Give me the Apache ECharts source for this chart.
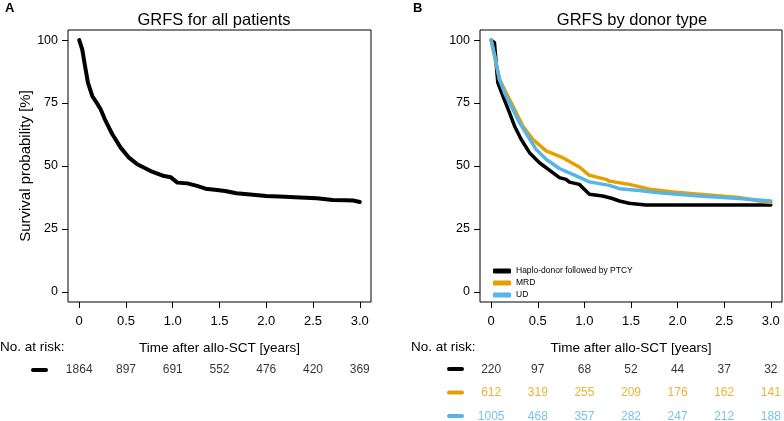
<!DOCTYPE html>
<html>
<head>
<meta charset="utf-8">
<script src="https://cdn.jsdelivr.net/npm/echarts@6/dist/echarts.min.js"></script>
<style>
  html, body { margin: 0; padding: 0; background: #fff; }
  #chart { width: 784px; height: 421px; }
</style>
</head>
<body>
<div id="chart"></div>
<script>
/* GRFS Kaplan-Meier panels with number-at-risk tables */

// ── data ──────────────────────────────────────────────────────────────
const xTicks = [0, 0.5, 1.0, 1.5, 2.0, 2.5, 3.0];
const yTicks = [0, 25, 50, 75, 100];

const allTime = [0, 0.007, 0.032, 0.068, 0.093, 0.139, 0.18, 0.229, 0.282, 0.354, 0.443, 0.532, 0.621, 0.764, 0.907, 0.98, 1.05, 1.157, 1.26, 1.35, 1.45, 1.56, 1.68, 1.8, 2.0, 2.2, 2.36, 2.54, 2.71, 2.85, 2.93, 3.0];
const allSurv = [100, 99.6, 96.3, 88.4, 83.1, 77.8, 75.5, 72.5, 67.9, 62.6, 57.3, 53.3, 50.7, 48, 46, 45.5, 43.4, 43.1, 42.1, 41, 40.6, 40.1, 39.2, 38.8, 38.1, 37.8, 37.5, 37.2, 36.5, 36.4, 36.3, 35.7];

const haploTime = [0, 0.035, 0.055, 0.071, 0.125, 0.196, 0.25, 0.321, 0.411, 0.518, 0.66, 0.732, 0.804, 0.839, 0.946, 0.98, 1.053, 1.196, 1.30, 1.375, 1.48, 1.58, 1.66, 2.0, 2.5, 3.0];
const haploSurv = [100, 99, 90, 83.1, 77.8, 71.2, 65.9, 60.6, 55.3, 51.3, 47.4, 45.4, 44.7, 43.6, 42.7, 41.5, 38.8, 38.1, 37.1, 36.1, 35.2, 34.8, 34.5, 34.5, 34.5, 34.5];

const mrdTime = [0, 0.035, 0.089, 0.178, 0.268, 0.339, 0.446, 0.589, 0.768, 0.911, 0.946, 1.053, 1.09, 1.232, 1.268, 1.482, 1.70, 1.95, 2.23, 2.66, 2.875, 3.0];
const mrdSurv = [100, 93.7, 84.4, 77.8, 71.2, 65.9, 60.6, 56, 53.3, 50.3, 49.6, 46.3, 46, 44.7, 44, 42.7, 40.8, 39.7, 38.8, 37.5, 36.1, 35.5];

const udTime = [0, 0.011, 0.054, 0.089, 0.143, 0.232, 0.303, 0.393, 0.482, 0.589, 0.732, 0.875, 1.053, 1.268, 1.375, 1.59, 1.80, 2.0, 2.23, 2.66, 3.0];
const udSurv = [100, 99.6, 91, 84.4, 79.1, 72.5, 67.2, 61.9, 56.6, 52.7, 49, 46.7, 43.7, 42.3, 41, 40.3, 39.4, 38.8, 38.1, 37.1, 36.1];

const groups = ["Haplo-donor followed by PTCY", "MRD", "UD"];
const riskAll = [1864, 897, 691, 552, 476, 420, 369];
const riskHaplo = [220, 97, 68, 52, 44, 37, 32];
const riskMrd = [612, 319, 255, 209, 176, 162, 141];
const riskUd = [1005, 468, 357, 282, 247, 212, 188];

// ── style ─────────────────────────────────────────────────────────────
const FONT = "'Liberation Sans', Arial, Helvetica, sans-serif";
const C = { black: "#000000", orange: "#E69F00", blue: "#56B4E9" };
const pair = (xs, ys) => xs.map((x, i) => [x, ys[i]]);

const plotX = (gi) => ({
  gridIndex: gi, type: "value", min: -0.12, max: 3.12,
  axisLine: { show: false, onZero: false },
  splitLine: { show: false },
  axisTick: { show: true, inside: false, length: 6, customValues: xTicks, lineStyle: { color: "#000", width: 1 } },
  axisLabel: { show: true, customValues: xTicks, margin: 13, color: "#000", fontFamily: FONT, fontSize: 13,
    formatter: (v) => (v === 0 ? "0" : Number(v).toFixed(1)) },
  name: "Time after allo-SCT [years]", nameLocation: "middle", nameGap: 39,
  nameTextStyle: { color: "#000", fontFamily: FONT, fontSize: 13.5 },
});
const plotY = (gi, name) => ({
  gridIndex: gi, type: "value", min: -4, max: 104,
  axisLine: { show: false, onZero: false },
  splitLine: { show: false },
  axisTick: { show: true, inside: false, length: 6, customValues: yTicks, lineStyle: { color: "#000", width: 1 } },
  axisLabel: { show: true, customValues: yTicks, margin: 10, color: "#000", fontFamily: FONT, fontSize: 12.5 },
  name: name, nameLocation: "middle", nameGap: 33,
  nameTextStyle: { color: "#000", fontFamily: FONT, fontSize: 15 },
});
// risk tables share the plot x-range; rows sit at y = 0, 1, 2
const riskX = (gi) => ({ gridIndex: gi, type: "value", min: -0.12, max: 3.12, show: false });
const riskY = (gi) => ({ gridIndex: gi, type: "value", min: 0, max: 2, inverse: true, show: false });

const curve = (name, xi, data, color, w) => ({
  name, type: "line", xAxisIndex: xi, yAxisIndex: xi, data,
  symbol: "none", smooth: false, animation: false,
  lineStyle: { color, width: w, cap: "round", join: "round" },
  itemStyle: { color },
});
const riskRow = (xi, row, values, color) => ({
  type: "scatter", xAxisIndex: xi, yAxisIndex: xi, symbolSize: 0, silent: true, animation: false, clip: false,
  data: values.map((v, i) => ({ value: [xTicks[i], row], label: { formatter: String(v) } })),
  label: { show: true, position: "inside", color, fontFamily: FONT, fontSize: 12 },
});
const marker = (x, y, color) => ({
  type: "rect", left: x, top: y - 2, shape: { width: 17, height: 4, r: 2 }, style: { fill: color }, silent: true,
});
const text = (t, left, top, size, weight, align) => ({
  text: t, left, top, padding: 0, textAlign: align || "left",
  textStyle: { fontSize: size, fontWeight: weight || "normal", color: "#000", fontFamily: FONT },
});

const chart = echarts.init(document.getElementById("chart"), null, { renderer: "canvas" });
chart.setOption({
  backgroundColor: "#fff",
  animation: false,
  textStyle: { fontFamily: FONT },
  title: [
    text("A", 5, 2, 13, "bold"),
    text("B", 413, 2, 13, "bold"),
    text("GRFS for all patients", 214, 12, 16.5, "normal", "center"),
    text("GRFS by donor type", 632, 12, 16.5, "normal", "center"),
    text("No. at risk:", 0, 340, 13.5),
    text("No. at risk:", 411, 340, 13.5),
  ],
  legend: {
    orient: "vertical", left: 488, top: 261, itemGap: 2,
    itemWidth: 18, itemHeight: 5, icon: "roundRect",
    data: groups,
    textStyle: { fontSize: 8.5, color: "#000", fontFamily: FONT, lineHeight: 10 },
  },
  grid: [
    { left: 68, top: 30, width: 303, height: 272, show: true, borderColor: "#000", borderWidth: 1, backgroundColor: "transparent" },
    { left: 480, top: 30, width: 302, height: 272, show: true, borderColor: "#000", borderWidth: 1, backgroundColor: "transparent" },
    { left: 68, top: 370, width: 303, height: 47 },
    { left: 480, top: 369.5, width: 302, height: 47 },
  ],
  xAxis: [plotX(0), plotX(1), riskX(2), riskX(3)],
  yAxis: [plotY(0, "Survival probability [%]"), plotY(1, ""), riskY(2), riskY(3)],
  series: [
    curve("All patients", 0, pair(allTime, allSurv), C.black, 4),
    curve(groups[0], 1, pair(haploTime, haploSurv), C.black, 3.5),
    curve(groups[1], 1, pair(mrdTime, mrdSurv), C.orange, 3.5),
    curve(groups[2], 1, pair(udTime, udSurv), C.blue, 3.5),
    riskRow(2, 0, riskAll, C.black),
    riskRow(3, 0, riskHaplo, C.black),
    riskRow(3, 1, riskMrd, C.orange),
    riskRow(3, 2, riskUd, C.blue),
  ],
  graphic: [
    marker(31, 370, C.black),
    marker(447, 369, C.black),
    marker(447, 392.5, C.orange),
    marker(447, 416, C.blue),
  ],
});
</script>
</body>
</html>
